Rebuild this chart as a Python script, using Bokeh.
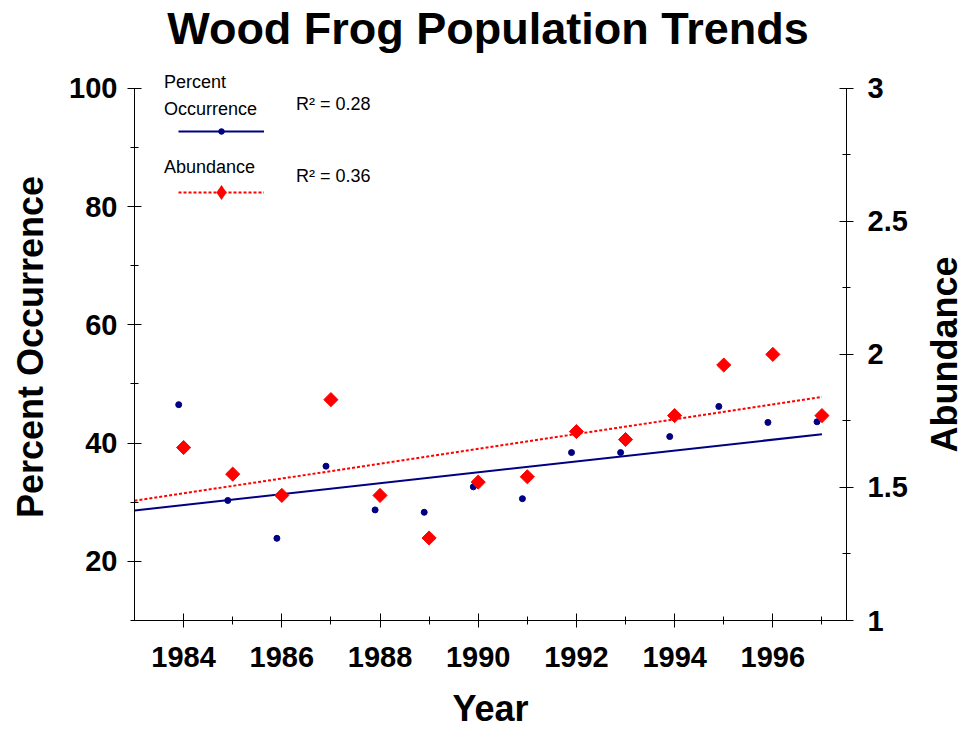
import math
from bokeh.plotting import figure
from bokeh.models import (Range1d, LinearAxis, FixedTicker, Label, Legend,
                          LegendItem, ColumnDataSource)
from bokeh.transform import dodge
from bokeh.embed import file_html
from bokeh.resources import INLINE

# ---- data ----
years = [1984, 1985, 1986, 1987, 1988, 1989, 1990, 1991, 1992, 1993, 1994, 1995, 1996, 1997]
pct_occurrence = [46.5, 30.3, 23.9, 36.1, 28.7, 28.3, 32.6, 30.6, 38.4, 38.4, 41.1, 46.2, 43.5, 43.6]
abundance = [1.65, 1.55, 1.47, 1.83, 1.47, 1.31, 1.52, 1.54, 1.71, 1.68, 1.77, 1.96, 2.00, 1.77]

trend_years = [1983, 1997]
pct_trend = [28.6, 41.5]
abund_trend = [1.45, 1.84]

r2_occurrence = "0.28"
r2_abundance = "0.36"

x_major_ticks = [1984, 1986, 1988, 1990, 1992, 1994, 1996]
x_minor_ticks = [1985, 1987, 1989, 1991, 1993, 1995, 1997]
left_major_ticks = [20, 40, 60, 80, 100]
left_minor_ticks = [10, 30, 50, 70, 90]
right_major_ticks = [1, 1.5, 2, 2.5, 3]
right_tick_labels = ["1", "1.5", "2", "2.5", "3"]
right_minor_ticks = [1.25, 1.75, 2.25, 2.75]

# axis extents (the drawn axes stop at these bounds)
x_start, x_end = 1983, 1997.5
pct_lo, pct_hi = 10, 100
ab_lo, ab_hi = 1, 3
head_room = 2.5  # extra room above the axes, in percent units (for legend text)

FONT = "Liberation Sans"
NAVY = "#000080"
RED = "#ff0000"

src = ColumnDataSource(dict(year=years, occ=pct_occurrence, abund=abundance))
trend = ColumnDataSource(dict(year=trend_years, occ=pct_trend, abund=abund_trend))

scale = (ab_hi - ab_lo) / (pct_hi - pct_lo)
p = figure(width=966, height=730,
           x_range=Range1d(x_start, x_end), y_range=Range1d(pct_lo, pct_hi + head_room),
           output_backend="svg", toolbar_location=None,
           min_border_left=134, min_border_right=120,
           min_border_top=73, min_border_bottom=110,
           y_axis_label="Percent Occurrence")
p.extra_y_ranges = {"abund": Range1d(ab_lo, ab_hi + head_room * scale)}
p.outline_line_color = None
p.xgrid.visible = False
p.ygrid.visible = False
p.background_fill_color = "white"
p.border_fill_color = "white"


def style_axis(ax, label_standoff, axis_label_standoff):
    ax.axis_line_color = "black"
    ax.axis_line_width = 1
    ax.major_tick_line_color = "black"
    ax.minor_tick_line_color = "black"
    ax.major_tick_in = 7
    ax.major_tick_out = 7
    ax.minor_tick_in = 4
    ax.minor_tick_out = 4
    ax.major_label_text_font = FONT
    ax.major_label_text_font_style = "bold"
    ax.major_label_text_font_size = "29px"
    ax.major_label_text_color = "black"
    ax.major_label_standoff = label_standoff
    ax.axis_label_text_font = FONT
    ax.axis_label_text_font_style = "bold"
    ax.axis_label_text_font_size = "36px"
    ax.axis_label_text_color = "black"
    ax.axis_label_standoff = axis_label_standoff


xaxis = p.xaxis[0]
xaxis.ticker = FixedTicker(ticks=x_major_ticks, minor_ticks=x_minor_ticks)
style_axis(xaxis, 19, 9)

yaxis = p.yaxis[0]
yaxis.ticker = FixedTicker(ticks=left_major_ticks, minor_ticks=left_minor_ticks)
yaxis.bounds = (pct_lo, pct_hi)
style_axis(yaxis, 10, 15)

raxis = LinearAxis(y_range_name="abund",
                   ticker=FixedTicker(ticks=right_major_ticks, minor_ticks=right_minor_ticks),
                   major_label_overrides={t: s for t, s in zip(right_major_ticks, right_tick_labels)},
                   bounds=(ab_lo, ab_hi))
style_axis(raxis, 14, 10)
p.add_layout(raxis, "right")

# ---- title and axis titles placed in the side panels (not clipped to the frame) ----
def big_text(x, y, s, size, side, angle=0.0):
    p.add_layout(Label(x=x, y=y, text=s, angle=angle,
                       text_font=FONT, text_font_style="bold", text_font_size=size,
                       text_color="black", text_align="center", text_baseline="middle"), side)

big_text(1990.2, 110.1, "Wood Frog Population Trends", "45px", "above")
big_text((x_start + x_end) / 2, -4.8, "Year", "36px", "below")
big_text(1999.5, (pct_lo + pct_hi) / 2, "Abundance", "36px", "right", math.pi / 2)

# ---- trend lines ----
occ_line = p.line("year", "occ", source=trend, line_color=NAVY, line_width=2)
abund_line = p.line("year", "abund", source=trend, y_range_name="abund",
                    line_color=RED, line_width=2, line_dash="3 2")

# ---- data points ----
occ_pts = p.scatter(x=dodge("year", -0.1, range=p.x_range), y="occ", source=src,
                    marker="circle", size=6, fill_color=NAVY, line_color=NAVY)
abund_pts = p.scatter("year", "abund", source=src, y_range_name="abund",
                      marker="square", size=10, angle=math.pi / 4,
                      fill_color=RED, line_color=RED)
# zero-size twin of the abundance markers: only its legend sample is visible
abund_key = p.scatter("year", "abund", source=src, y_range_name="abund",
                      marker="diamond", size=0, fill_color=RED, line_color=None)

# ---- legend (glyph samples) ----
def make_legend(renderers, glyph_h, loc):
    lg = Legend(items=[LegendItem(label=" ", renderers=renderers)],
                location=loc, glyph_width=86, glyph_height=glyph_h,
                label_height=glyph_h, label_width=1, label_standoff=0,
                label_text_font_size="8px", padding=0, margin=0, spacing=0,
                background_fill_alpha=0, border_line_alpha=0)
    p.add_layout(lg, "center")

make_legend([occ_line, occ_pts], 14, (44, 482))
make_legend([abund_line, abund_key], 38, (44, 409))

# ---- legend texts ----
def txt(x, y, s):
    p.add_layout(Label(x=x, y=y, text=s, text_font=FONT, text_font_size="18px",
                       text_color="black", text_baseline="middle", text_align="left"))

txt(1983.6, 101.0, "Percent")
txt(1983.6, 96.5, "Occurrence")
txt(1983.6, 86.7, "Abundance")
txt(1986.29, 97.4, "R\u00b2 = " + r2_occurrence)
txt(1986.29, 85.25, "R\u00b2 = " + r2_abundance)

open("out.html", "w").write(file_html(p, INLINE))
